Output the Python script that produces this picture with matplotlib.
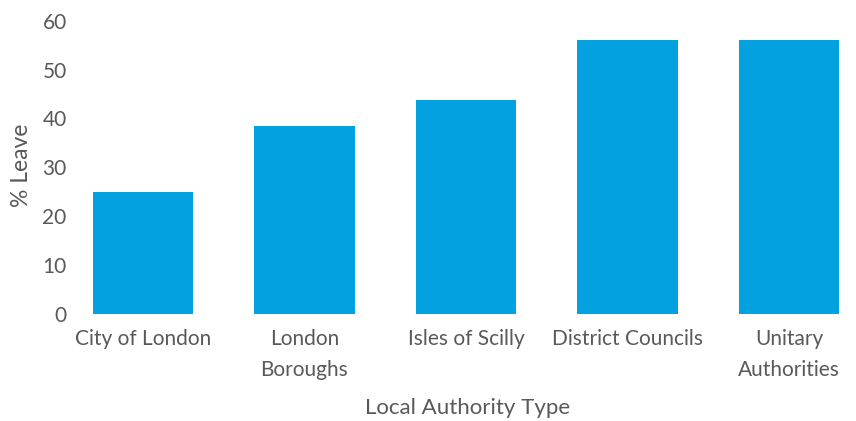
import matplotlib
matplotlib.use("Agg")
import matplotlib.pyplot as plt

# values
categories = ["City of London", "London\nBoroughs", "Isles of Scilly",
              "District Councils", "Unitary\nAuthorities"]
leave_pct = [24.9, 38.5, 43.8, 56.1, 56.1]
y_ticks = [0, 10, 20, 30, 40, 50, 60]

bar_color = "#03A1E0"
text_color = "#595959"

plt.rcParams["font.family"] = ["Lato", "DejaVu Sans"]

fig = plt.figure(figsize=(8.56, 4.21), dpi=100)
# plot area in pixels: left 75, right 856, bottom 313.5, top 21
ax = fig.add_axes([75 / 856, (421 - 313.5) / 421, (856 - 75) / 856, (313.5 - 21) / 421])

x = list(range(len(categories)))
ax.bar(x, leave_pct, width=0.62, color=bar_color)

ax.set_xlim((75 - 143) / 161.5, (856 - 143) / 161.5)
ax.set_ylim(0, 60)
ax.set_yticks(y_ticks)
ax.set_xticks(x)
ax.set_xticklabels(categories, linespacing=1.7)

for side in ["top", "right", "left", "bottom"]:
    ax.spines[side].set_visible(False)
ax.tick_params(axis="both", length=0, labelsize=15, colors=text_color)
ax.tick_params(axis="x", pad=11)
ax.tick_params(axis="y", pad=6)

ax.set_xlabel("Local Authority Type", fontsize=16, color=text_color)
ax.xaxis.label.set_verticalalignment("center")
ax.xaxis.set_label_coords((468 - 75) / 781, (313.5 - 408) / 292.5)
ax.set_ylabel("% Leave", fontsize=16.5, color=text_color)
ax.yaxis.label.set_verticalalignment("center")
ax.yaxis.set_label_coords((21 - 75) / 781, (313.5 - 165) / 292.5)

fig.savefig("out.png", dpi=100)
